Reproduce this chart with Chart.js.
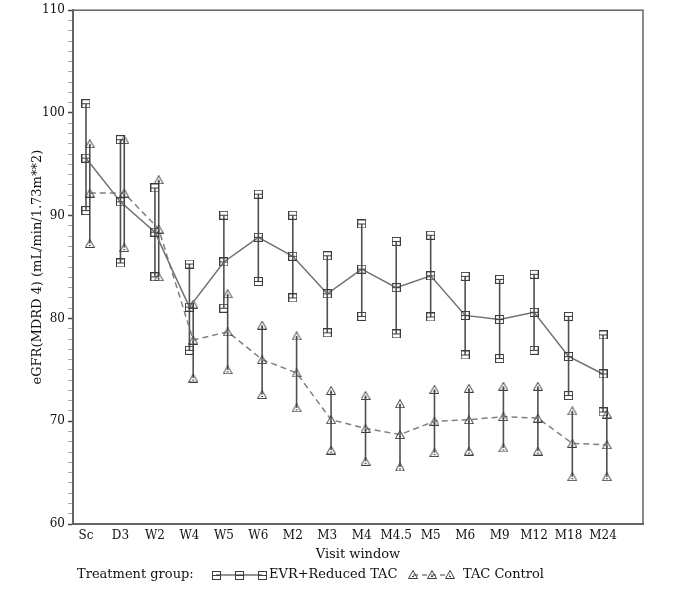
<!DOCTYPE html>
<html>
<head>
<meta charset="utf-8">
<script src="https://cdn.jsdelivr.net/npm/chart.js@4"></script>
<style>
  html, body { margin: 0; padding: 0; background: #fff; }
  #wrap { width: 689px; height: 593px; }
</style>
</head>
<body>
<div id="wrap"><canvas id="egfr" width="689" height="593"></canvas></div>
<script>
const visits = ["Sc", "D3", "W2", "W4", "W5", "W6", "M2", "M3", "M4", "M4.5", "M5", "M6", "M9", "M12", "M18", "M24"];

const evrMean = [95.6, 91.35, 88.4, 81.1, 85.5, 87.9, 86.05, 82.4, 84.8, 83.0, 84.15, 80.3, 79.9, 80.6, 76.3, 74.6];
const evrUpper = [100.9, 97.4, 92.7, 85.3, 90.05, 92.1, 90.05, 86.1, 89.2, 87.5, 88.1, 84.1, 83.8, 84.3, 80.2, 78.4];
const evrLower = [90.5, 85.4, 84.05, 76.9, 81.0, 83.6, 82.0, 78.6, 80.2, 78.5, 80.15, 76.45, 76.1, 76.9, 72.5, 70.9];

const tacMean = [92.2, 92.2, 88.7, 77.9, 78.7, 76.0, 74.7, 70.15, 69.3, 68.7, 70.0, 70.15, 70.45, 70.3, 67.85, 67.7];
const tacUpper = [97.0, 97.4, 93.5, 81.4, 82.4, 79.35, 78.3, 73.0, 72.5, 71.7, 73.1, 73.2, 73.4, 73.4, 71.0, 70.7];
const tacLower = [87.3, 86.9, 84.05, 74.2, 75.0, 72.6, 71.3, 67.2, 66.1, 65.55, 66.95, 67.1, 67.4, 67.1, 64.6, 64.6];

const yTicks = [60, 70, 80, 90, 100, 110];

const FONT = "'DejaVu Serif', serif";
const tacShift = 0.11; // triangles sit a little right of the squares

// marker symbols (square with bar, open triangle)
function squareMark() {
  const c = document.createElement("canvas");
  c.width = 9; c.height = 9;
  const g = c.getContext("2d");
  g.strokeStyle = "#3c3c3c";
  g.lineWidth = 1;
  g.strokeRect(0.5, 0.5, 8, 8);
  g.beginPath(); g.moveTo(1, 4.5); g.lineTo(8, 4.5); g.stroke();
  return c;
}
function triangleMark() {
  const c = document.createElement("canvas");
  c.width = 10; c.height = 9;
  const g = c.getContext("2d");
  g.strokeStyle = "#3c3c3c";
  g.lineWidth = 1;
  g.beginPath();
  g.moveTo(5, 0.5); g.lineTo(9.5, 8.5); g.lineTo(0.5, 8.5); g.closePath();
  g.stroke();
  g.beginPath(); g.moveTo(4, 6.5); g.lineTo(6, 6.5); g.stroke();
  return c;
}
const sq = squareMark();
const tri = triangleMark();

const pts = (arr, shift) => arr.map((v, i) => ({ x: i + shift, y: v }));

const errorBars = {
  id: "errorBars",
  beforeDatasetsDraw(chart) {
    const { ctx, scales: { x, y } } = chart;
    ctx.save();
    ctx.strokeStyle = "#505050";
    ctx.lineWidth = 1.6;
    const bars = [[evrUpper, evrLower, 0], [tacUpper, tacLower, tacShift]];
    bars.forEach(([up, lo, s]) => {
      up.forEach((u, i) => {
        const px = x.getPixelForValue(i + s);
        ctx.beginPath();
        ctx.moveTo(px, y.getPixelForValue(u));
        ctx.lineTo(px, y.getPixelForValue(lo[i]));
        ctx.stroke();
      });
    });
    ctx.restore();
  },
};

const frameAndLegend = {
  id: "frameAndLegend",
  afterDraw(chart) {
    const { ctx, chartArea: a } = chart;
    ctx.save();
    ctx.strokeStyle = "#666";
    ctx.lineWidth = 1.5;
    ctx.strokeRect(a.left, a.top, a.right - a.left, a.bottom - a.top);

    const ly = 575;
    ctx.fillStyle = "#111";
    ctx.font = "13px " + FONT;
    ctx.textBaseline = "middle";
    ctx.fillText("Treatment group:", 77, ly);

    // EVR sample
    ctx.strokeStyle = "#707070";
    ctx.lineWidth = 1.5;
    ctx.beginPath(); ctx.moveTo(216, ly); ctx.lineTo(262, ly); ctx.stroke();
    [216, 239, 262].forEach((px) => ctx.drawImage(sq, Math.round(px - 4.5), Math.round(ly - 4.5)));
    ctx.fillText("EVR+Reduced TAC", 269, ly);

    // TAC sample
    ctx.strokeStyle = "#808080";
    ctx.setLineDash([5, 4]);
    ctx.beginPath(); ctx.moveTo(413, ly); ctx.lineTo(450, ly); ctx.stroke();
    ctx.setLineDash([]);
    [413, 431.5, 450].forEach((px) => ctx.drawImage(tri, Math.round(px - 5), Math.round(ly - 5)));
    ctx.fillText("TAC Control", 463, ly);
    ctx.restore();
  },
};

const endPoints = (arr, shift, mark) => ({
  data: pts(arr, shift),
  showLine: false,
  pointStyle: mark,
  pointRadius: 4,
  pointHoverRadius: 4,
});

new Chart(document.getElementById("egfr"), {
  type: "scatter",
  data: {
    datasets: [
      {
        label: "EVR+Reduced TAC",
        data: pts(evrMean, 0),
        showLine: true,
        borderColor: "#707070",
        borderWidth: 1.5,
        pointStyle: sq,
        pointRadius: 4,
      },
      {
        label: "TAC Control",
        data: pts(tacMean, tacShift),
        showLine: true,
        borderColor: "#808080",
        borderWidth: 1.5,
        borderDash: [6, 4],
        pointStyle: tri,
        pointRadius: 4,
      },
      endPoints(evrUpper, 0, sq),
      endPoints(evrLower, 0, sq),
      endPoints(tacUpper, tacShift, tri),
      endPoints(tacLower, tacShift, tri),
    ],
  },
  options: {
    responsive: false,
    animation: false,
    devicePixelRatio: 1,
    layout: { padding: { left: 0, right: 46, top: 8, bottom: 24 } },
    plugins: { legend: { display: false }, tooltip: { enabled: false } },
    scales: {
      x: {
        type: "linear",
        min: -0.377,
        max: 16.16,
        afterBuildTicks: (s) => { s.ticks = visits.map((_, i) => ({ value: i })); },
        afterFit: (s) => { s.height = 45; },
        grid: { display: false, drawTicks: false },
        border: { display: true, color: "#666", width: 2 },
        ticks: {
          autoSkip: false,
          maxRotation: 0,
          padding: 5,
          color: "#111",
          font: { family: FONT, size: 12 },
          callback: (v) => visits[v],
        },
        title: {
          display: true,
          text: "Visit window",
          color: "#111",
          font: { family: FONT, size: 13 },
          padding: { top: 2, bottom: 7 },
        },
      },
      y: {
        min: 60,
        max: 110,
        afterBuildTicks: (s) => {
          const t = [];
          for (let v = 60; v <= 110; v++) t.push({ value: v });
          s.ticks = t;
        },
        afterFit: (s) => { s.width = 73; },
        grid: {
          drawOnChartArea: false,
          drawTicks: true,
          tickLength: 5,
          tickColor: (c) => (yTicks.includes(c.tick.value) ? "#444" : "#aaa"),
          tickWidth: (c) => (yTicks.includes(c.tick.value) ? 1.5 : 1),
        },
        border: { display: true, color: "#666", width: 2 },
        ticks: {
          autoSkip: false,
          padding: 3,
          color: "#111",
          font: { family: FONT, size: 12 },
          callback: (v) => (yTicks.includes(v) ? String(v) : ""),
        },
        title: {
          display: true,
          text: "eGFR(MDRD 4) (mL/min/1.73m**2)",
          color: "#111",
          font: { family: FONT, size: 13 },
          padding: { top: 30, bottom: 0 },
        },
      },
    },
  },
  plugins: [errorBars, frameAndLegend],
});
</script>
</body>
</html>
